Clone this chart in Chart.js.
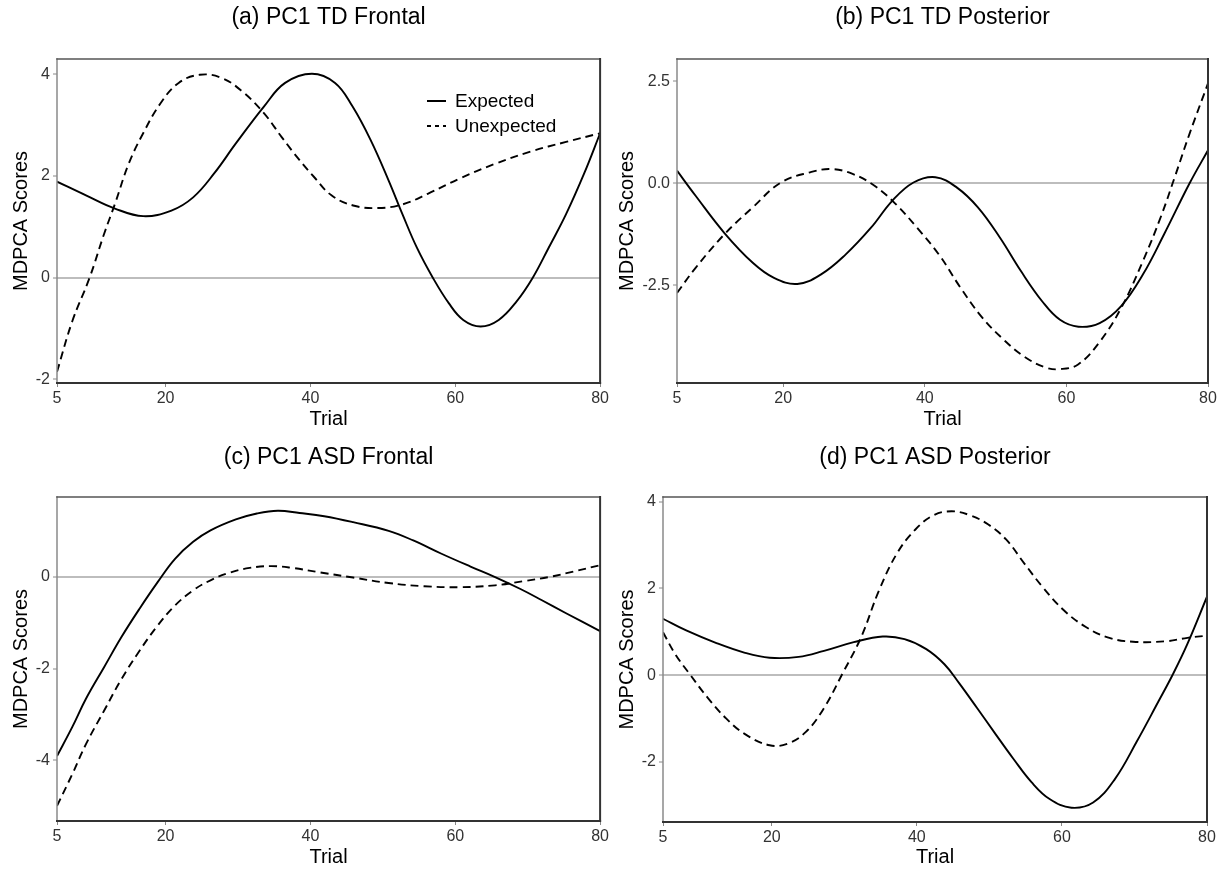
<!DOCTYPE html>
<html><head><meta charset="utf-8">
<script src="https://cdn.jsdelivr.net/npm/chart.js@4.4.1/dist/chart.umd.min.js"></script>
<style>
html,body{margin:0;padding:0;background:#fff;}
#wrap{position:relative;width:1222px;height:871px;background:#fff;}
canvas{position:absolute;display:block;}
</style></head><body>
<div id="wrap">
<canvas id="ca" width="611" height="435" style="left:0;top:0;width:611px;height:435px"></canvas>
<canvas id="cb" width="611" height="435" style="left:611px;top:0;width:611px;height:435px"></canvas>
<canvas id="cc" width="611" height="436" style="left:0;top:435px;width:611px;height:436px"></canvas>
<canvas id="cd" width="611" height="436" style="left:611px;top:435px;width:611px;height:436px"></canvas>
</div>
<script>
// ---------- data ----------
const trialTicks = [5, 20, 40, 60, 80];
const seriesNames = ['Expected', 'Unexpected'];

// (a) PC1 TD Frontal
const aExpTrial = [5,9,13,16.9,20.8,23.8,26.7,29.7,33.6,36.5,40.2,43.4,45.8,48.3,50.8,52.7,54.7,56.9,59.1,61.1,63.5,66,68.5,70.7,72.9,75.3,77.8,80];
const aExp      = [1.89,1.62,1.36,1.21,1.32,1.58,2.05,2.64,3.37,3.83,4.01,3.83,3.37,2.71,1.91,1.25,0.59,0,-0.50,-0.83,-0.96,-0.83,-0.46,0,0.59,1.25,2.05,2.84];
const aUnexTrial = [5,7.1,9.5,11.5,13,14.9,16.9,19.3,21.8,24.7,27.7,30.6,33.6,36,38.5,40.5,42.9,45.9,49.3,52.7,56.2,60.6,65.5,70.4,75.3,80];
const aUnex      = [-1.85,-0.86,0,0.86,1.45,2.24,2.84,3.43,3.83,3.99,3.93,3.66,3.23,2.77,2.31,1.98,1.62,1.42,1.37,1.44,1.65,1.95,2.24,2.48,2.67,2.84];
const aYTicks = [-2, 0, 2, 4];
const aYLabels = ['-2', '0', '2', '4'];

// (b) PC1 TD Posterior
const bExpTrial = [5,7.6,11.7,15.7,18.7,22,25.3,28.8,32.4,35.4,38.4,41.5,44.5,47.5,50.6,53.6,56.6,59.1,61.7,64.7,67.7,70.8,73.8,77.4,80];
const bExp      = [0.31,-0.30,-1.22,-1.95,-2.32,-2.47,-2.24,-1.75,-1.09,-0.43,0.02,0.15,-0.10,-0.59,-1.33,-2.16,-2.90,-3.35,-3.52,-3.43,-3.02,-2.24,-1.25,0,0.81];
const bUnexTrial = [5,7.6,11.7,15.7,19.7,23.8,26.8,29.8,32.9,35.9,38.9,42,45,48,51.1,54.1,57.1,59.1,61.7,64.7,67.7,70.8,73.3,75.3,77.4,80];
const bUnex      = [-2.69,-2.08,-1.25,-0.59,0.02,0.27,0.35,0.23,-0.06,-0.51,-1.09,-1.75,-2.55,-3.27,-3.83,-4.26,-4.52,-4.56,-4.44,-3.89,-3.07,-1.91,-0.84,0.15,1.22,2.45];
const bYTicks = [-2.5, 0, 2.5];
const bYLabels = ['-2.5', '0.0', '2.5'];

// (c) PC1 ASD Frontal
const cExpTrial = [5,7.1,9,11.5,13.9,16.4,18.9,21.3,23.8,26.2,29.7,32.6,35.5,38.5,41.9,45.9,50.8,54.2,58.1,62.1,65.5,69,71.9,75.3,80];
const cExp      = [-3.91,-3.28,-2.66,-1.97,-1.31,-0.69,-0.11,0.40,0.77,1.02,1.26,1.39,1.45,1.40,1.33,1.20,1.01,0.80,0.51,0.23,0,-0.26,-0.50,-0.79,-1.18];
const cUnexTrial = [5,7.1,9,11.5,13.9,16.4,18.9,21.3,23.8,26.2,28.7,31.6,34.6,37.5,41.4,45.9,50.8,55.7,60.6,65.5,69.4,72.9,76.3,80];
const cUnex      = [-5.0,-4.31,-3.65,-2.92,-2.23,-1.61,-1.06,-0.62,-0.29,-0.07,0.09,0.20,0.24,0.20,0.10,-0.01,-0.13,-0.20,-0.22,-0.18,-0.09,0,0.12,0.26];
const cYTicks = [-4, -2, 0];
const cYLabels = ['-4', '-2', '0'];

// (d) PC1 ASD Posterior
const dExpTrial = [5,8.2,12.2,16.2,19.7,23.7,27.2,31.3,35.3,38.3,41.3,43.8,45.8,48.3,50.8,53.3,55.8,58.3,61.3,64.3,67.3,70.3,73.3,75.3,77.3,80];
const dExp      = [1.30,1.03,0.75,0.52,0.40,0.42,0.56,0.76,0.89,0.83,0.60,0.25,-0.18,-0.76,-1.35,-1.93,-2.47,-2.86,-3.06,-2.94,-2.40,-1.54,-0.61,0.02,0.72,1.81];
const dUnexTrial = [5,6.7,8.7,11.2,13.7,16.2,19.7,22.2,24.7,27.2,29.7,32.3,34.8,37.3,39.8,42.3,44.8,47.3,49.8,52.3,54.8,57.3,60.3,63.3,66.3,69.8,74.3,77.3,80];
const dUnex      = [0.99,0.48,0.02,-0.53,-1.0,-1.35,-1.62,-1.58,-1.31,-0.76,0.02,0.87,1.96,2.82,3.36,3.69,3.78,3.69,3.48,3.13,2.58,2.04,1.49,1.11,0.87,0.77,0.78,0.86,0.91];
const dYTicks = [-2, 0, 2, 4];
const dYLabels = ['-2', '0', '2', '4'];

// ---------- drawing ----------
const FONT = "'Liberation Sans', Arial, Helvetica, sans-serif";

function zip(xs, ys) { return xs.map((x, i) => ({x: x, y: ys[i]})); }

const framePlugin = {
  id: 'frame',
  afterDatasetsDraw(chart, args, opts) {
    const {ctx, chartArea: a} = chart;
    ctx.save();
    ctx.lineCap = 'square';
    ctx.strokeStyle = '#8a8a8a'; ctx.lineWidth = 1.5;
    ctx.beginPath(); ctx.moveTo(a.left, a.top); ctx.lineTo(a.left, a.bottom); ctx.stroke();
    ctx.strokeStyle = '#555'; ctx.lineWidth = 1.5;
    ctx.beginPath(); ctx.moveTo(a.left, a.top); ctx.lineTo(a.right, a.top); ctx.stroke();
    ctx.strokeStyle = '#333'; ctx.lineWidth = 2;
    ctx.beginPath(); ctx.moveTo(a.right, a.top); ctx.lineTo(a.right, a.bottom); ctx.stroke();
    ctx.beginPath(); ctx.moveTo(a.left, a.bottom); ctx.lineTo(a.right, a.bottom); ctx.stroke();
    ctx.restore();
  },
  afterDraw(chart, args, opts) {
    const {ctx, chartArea: a} = chart;
    ctx.save();
    ctx.fillStyle = '#000';
    ctx.font = '23px ' + FONT;
    ctx.textAlign = 'center';
    ctx.textBaseline = 'middle';
    ctx.fillText(opts.title, (a.left + a.right) / 2, opts.titleY);
    if (opts.legend) {
      const ds = chart.data.datasets;
      ctx.font = '19px ' + FONT;
      ctx.textAlign = 'left';
      ds.forEach((d, i) => {
        const y = opts.legendY + i * opts.legendGap;
        ctx.strokeStyle = d.borderColor;
        ctx.lineWidth = 2;
        ctx.setLineDash(d.borderDash ? [4, 4] : []);
        ctx.beginPath(); ctx.moveTo(opts.legendX, y); ctx.lineTo(opts.legendX + 19, y); ctx.stroke();
        ctx.setLineDash([]);
        ctx.fillText(d.label, opts.legendX + 28, y + 1);
      });
    }
    ctx.restore();
  }
};

function makeChart(id, cfg) {
  return new Chart(document.getElementById(id), {
    type: 'line',
    data: {
      datasets: [
        {label: seriesNames[0], data: zip(cfg.expT, cfg.exp), borderColor: '#000', borderWidth: 1.9,
         pointRadius: 0, fill: false, tension: 0.4},
        {label: seriesNames[1], data: zip(cfg.unT, cfg.un), borderColor: '#000', borderWidth: 1.9,
         borderDash: [8, 5], pointRadius: 0, fill: false, tension: 0.4}
      ]
    },
    options: {
      responsive: false,
      animation: false,
      events: [],
      layout: {padding: cfg.pad},
      plugins: {
        legend: {display: false},
        tooltip: {enabled: false},
        frame: {title: cfg.title, titleY: cfg.titleY, legend: !!cfg.legend,
                legendX: 427, legendY: 101, legendGap: 25}
      },
      scales: {
        x: {
          type: 'linear', min: 5, max: 80,
          afterBuildTicks: s => { s.ticks = trialTicks.map(v => ({value: v})); },
          afterFit: s => { s.height = cfg.xh; },
          border: {display: false},
          grid: {drawOnChartArea: false, drawTicks: true, tickLength: 4, tickColor: '#888', tickWidth: 1},
          ticks: {autoSkip: false, maxRotation: 0, padding: 2, color: '#333',
                  font: {family: FONT, size: 16}, callback: v => String(v)},
          title: {display: true, text: 'Trial', color: '#000', font: {family: FONT, size: 20},
                  padding: {top: 0, bottom: cfg.xTitlePad}}
        },
        y: {
          type: 'linear', min: cfg.ymin, max: cfg.ymax,
          afterBuildTicks: s => { s.ticks = cfg.yTicks.map(v => ({value: v})); },
          afterFit: s => { s.width = cfg.yw; },
          border: {display: false},
          grid: {
            color: c => (c.tick && c.tick.value === 0) ? '#bdbdbd' : 'rgba(0,0,0,0)',
            lineWidth: 2, drawTicks: true, tickLength: 4, tickColor: '#888', tickWidth: 1
          },
          ticks: {autoSkip: false, padding: 3, color: '#333', font: {family: FONT, size: 16},
                  callback: v => { const i = cfg.yTicks.indexOf(v); return i >= 0 ? cfg.yLabels[i] : ''; }},
          title: {display: true, text: 'MDPCA Scores', color: '#000', font: {family: FONT, size: 20},
                  padding: {top: cfg.yTitlePad, bottom: 0}}
        }
      }
    },
    plugins: [framePlugin]
  });
}

makeChart('ca', {title: '(a) PC1 TD Frontal', titleY: 18, legend: true,
  expT: aExpTrial, exp: aExp, unT: aUnexTrial, un: aUnex,
  yTicks: aYTicks, yLabels: aYLabels, ymin: -2.07, ymax: 4.3,
  pad: {top: 59, left: 0, right: 9, bottom: 0}, yw: 57, xh: 52, xTitlePad: 4, yTitlePad: 9});
makeChart('cb', {title: '(b) PC1 TD Posterior', titleY: 18,
  expT: bExpTrial, exp: bExp, unT: bUnexTrial, un: bUnex,
  yTicks: bYTicks, yLabels: bYLabels, ymin: -4.9, ymax: 3.05,
  pad: {top: 59, left: 0, right: 14, bottom: 0}, yw: 66, xh: 52, xTitlePad: 4, yTitlePad: 4});
makeChart('cc', {title: '(c) PC1 ASD Frontal', titleY: 23,
  expT: cExpTrial, exp: cExp, unT: cUnexTrial, un: cUnex,
  yTicks: cYTicks, yLabels: cYLabels, ymin: -5.33, ymax: 1.75,
  pad: {top: 62, left: 0, right: 9, bottom: 0}, yw: 57, xh: 50, xTitlePad: 2, yTitlePad: 9});
makeChart('cd', {title: '(d) PC1 ASD Posterior', titleY: 23,
  expT: dExpTrial, exp: dExp, unT: dUnexTrial, un: dUnex,
  yTicks: dYTicks, yLabels: dYLabels, ymin: -3.39, ymax: 4.11,
  pad: {top: 62, left: 0, right: 15, bottom: 0}, yw: 52, xh: 49, xTitlePad: 2, yTitlePad: 4});
</script>
</body></html>
